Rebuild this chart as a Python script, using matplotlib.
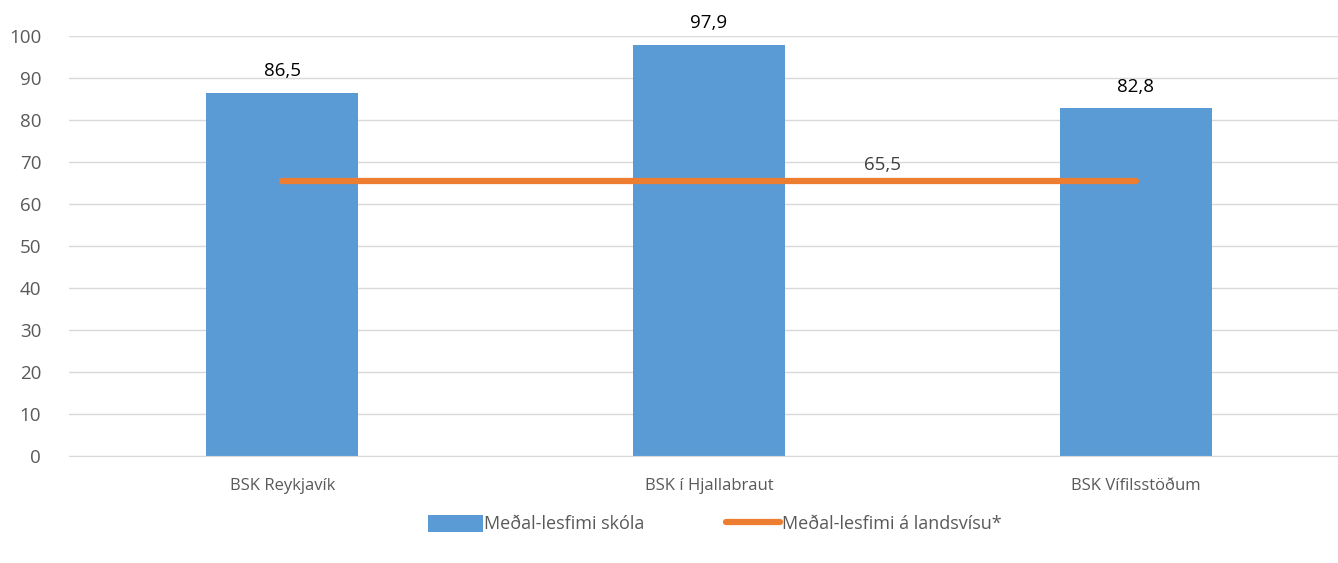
import matplotlib.pyplot as plt
import numpy as np

plt.rcParams['font.family'] = ['Open Sans', 'DejaVu Sans']

flokkar = ['BSK Reykjavík', 'BSK í Hjallabraut', 'BSK Vífilsstöðum']
skoli = [86.5, 97.9, 82.8]
landsvisu = [65.5, 65.5, 65.5]
yticks = list(range(0, 101, 10))

fig = plt.figure(figsize=(13.38, 5.63), dpi=100)
ax = fig.add_axes([69 / 1338, 107 / 563, 1280 / 1338, 420 / 563])

x = np.arange(len(flokkar))
b = ax.bar(x, skoli, width=0.356, color='#5b9bd5', zorder=2, label='Meðal-lesfimi skóla')
l, = ax.plot(x, landsvisu, color='#ed7d31', linewidth=4.5, solid_capstyle='round', zorder=3,
             label='Meðal-lesfimi á landsvísu*')

for xi, v in zip(x, skoli):
    ax.annotate(f'{v:.1f}'.replace('.', ','), (xi, v), xytext=(0, 9), textcoords='offset points',
                ha='center', va='bottom', fontsize=13.5, color='black')
ax.text(1.406, landsvisu[-1] + 1.6, f'{landsvisu[-1]:.1f}'.replace('.', ','), ha='center',
        va='bottom', fontsize=13.5, color='#404040')

ax.set_xlim(-0.5, 2.5)
ax.set_ylim(0, 100)
ax.set_yticks(yticks)
ax.set_xticks(x)
ax.set_xticklabels(flokkar)
ax.tick_params(axis='both', length=0, colors='#595959', labelsize=13.5)
ax.tick_params(axis='x', pad=16, labelsize=12)
ax.tick_params(axis='y', pad=20)
ax.grid(axis='y', color='#d9d9d9', linewidth=1, zorder=0)
for s in ['top', 'right', 'left']:
    ax.spines[s].set_visible(False)
ax.spines['bottom'].set_color('#d9d9d9')

fig.legend([b, l], ['Meðal-lesfimi skóla', 'Meðal-lesfimi á landsvísu*'],
           loc='center', bbox_to_anchor=(715 / 1338, 1 - 524 / 563), ncol=2, frameon=False,
           fontsize=13, labelcolor='#595959', handlelength=3.0, handleheight=1.1,
           columnspacing=4.5, handletextpad=0.1)

fig.savefig('out.png', dpi=100)
